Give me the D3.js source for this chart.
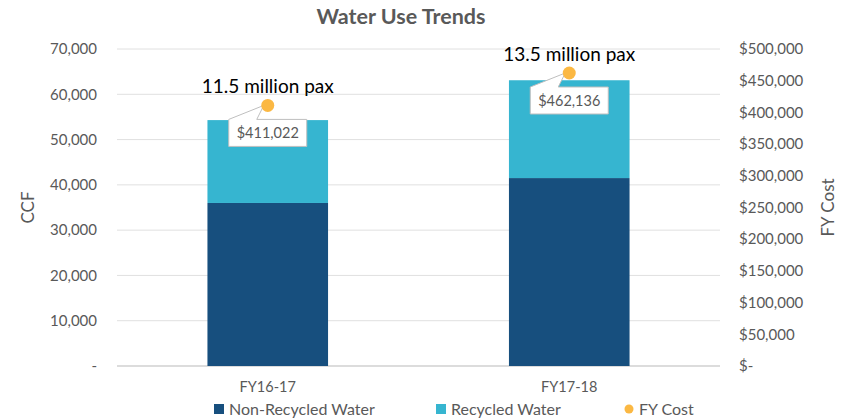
<!DOCTYPE html>
<html>
<head>
<meta charset="utf-8">
<script src="https://cdn.jsdelivr.net/npm/d3@7"></script>
<style>
  body { margin: 0; background: #fff; }
  svg text { font-family: Lato, "Liberation Sans", sans-serif; }
</style>
</head>
<body>
<script>
// chart data
const years = ["FY16-17", "FY17-18"];
const nonRecycled = [36000, 41500];
const recycled = [18300, 21600];
const fyCost = [411022, 462136];
const paxLabels = ["11.5 million pax", "13.5 million pax"];
const leftTicks = [0, 10000, 20000, 30000, 40000, 50000, 60000, 70000];
const rightTicks = [0, 50000, 100000, 150000, 200000, 250000, 300000, 350000, 400000, 450000, 500000];

const W = 851, H = 420;
const m = { left: 117, right: 131, top: 49, bottom: 54 };
const grey = "#595959";

const svg = d3.select("body").append("svg").attr("width", W).attr("height", H);

const x = d3.scaleBand().domain(years).range([m.left, W - m.right]).paddingInner(0.6).paddingOuter(0.3);
const y = d3.scaleLinear().domain([0, 70000]).range([H - m.bottom, m.top]);
const y2 = d3.scaleLinear().domain([0, 500000]).range([H - m.bottom, m.top]);

// title
svg.append("text").attr("x", 401).attr("y", 24).attr("text-anchor", "middle")
  .attr("font-size", 21.5).attr("font-weight", "bold").attr("fill", grey).text("Water Use Trends");

// gridlines
svg.append("g").selectAll("line").data(leftTicks).join("line")
  .attr("x1", m.left).attr("x2", W - m.right)
  .attr("y1", d => y(d)).attr("y2", d => y(d))
  .attr("stroke", d => d === 0 ? "#d0d0d0" : "#e0e0e0").attr("stroke-width", d => d === 0 ? 1.5 : 1);

// left axis
const fmt = d3.format(",");
svg.append("g").selectAll("text").data(leftTicks).join("text")
  .attr("x", 97).attr("y", d => y(d)).attr("dy", "0.35em").attr("text-anchor", "end")
  .attr("font-size", 15).attr("fill", grey).text(d => d === 0 ? "-" : fmt(d));
svg.append("text").attr("transform", `translate(34,${(m.top + H - m.bottom) / 2}) rotate(-90)`)
  .attr("text-anchor", "middle").attr("font-size", 17).attr("fill", grey).text("CCF");

// right axis
svg.append("g").selectAll("text").data(rightTicks).join("text")
  .attr("x", 739).attr("y", d => y2(d)).attr("dy", "0.35em").attr("text-anchor", "start")
  .attr("font-size", 15).attr("fill", grey).text(d => d === 0 ? "$-" : "$" + fmt(d));
svg.append("text").attr("transform", `translate(834,${(m.top + H - m.bottom) / 2}) rotate(-90)`)
  .attr("text-anchor", "middle").attr("font-size", 17).attr("fill", grey).text("FY Cost");

// bars
const rows = years.map((yr, i) => ({ yr, a: nonRecycled[i], b: recycled[i], cost: fyCost[i], pax: paxLabels[i] }));
const bars = svg.append("g");
bars.selectAll(".nr").data(rows).join("rect").attr("class", "nr")
  .attr("x", d => x(d.yr)).attr("width", x.bandwidth())
  .attr("y", d => y(d.a)).attr("height", d => y(0) - y(d.a)).attr("fill", "#174f7e");
bars.selectAll(".rc").data(rows).join("rect").attr("class", "rc")
  .attr("x", d => x(d.yr)).attr("width", x.bandwidth())
  .attr("y", d => y(d.a + d.b)).attr("height", d => y(d.a) - y(d.a + d.b)).attr("fill", "#36b5d0");

// x labels
svg.append("g").selectAll("text").data(years).join("text")
  .attr("x", d => x(d) + x.bandwidth() / 2).attr("y", 387).attr("dy", "0.35em")
  .attr("text-anchor", "middle").attr("font-size", 14.5).attr("fill", grey).text(d => d);

// cost points with callouts
const pts = svg.append("g");
rows.forEach(d => {
  const cx = x(d.yr) + x.bandwidth() / 2, cy = y2(d.cost);
  const bw = 78, bh = 27, bx = cx - bw / 2, by = cy + 14;
  const path = `M${bx},${by} L${cx - 4},${cy} L${bx + 28},${by} L${bx + bw},${by} L${bx + bw},${by + bh} L${bx},${by + bh} Z`;
  pts.append("path").attr("d", path).attr("fill", "#fff").attr("stroke", "#bfbfbf").attr("stroke-width", 1);
  pts.append("text").attr("x", bx + bw / 2).attr("y", by + bh / 2).attr("dy", "0.35em")
    .attr("text-anchor", "middle").attr("font-size", 14.5).attr("fill", grey).text("$" + fmt(d.cost));
  pts.append("circle").attr("cx", cx).attr("cy", cy).attr("r", 6.5).attr("fill", "#fbb843");
  pts.append("text").attr("x", cx).attr("y", cy - 12)
    .attr("text-anchor", "middle").attr("font-size", 19).attr("fill", "#000").text(d.pax);
});

// legend
const lg = svg.append("g");
const lgY = 409;
lg.append("rect").attr("x", 214).attr("y", lgY - 5).attr("width", 10).attr("height", 10).attr("fill", "#174f7e");
lg.append("text").attr("x", 229).attr("y", lgY).attr("dy", "0.35em").attr("font-size", 16).attr("fill", grey).text("Non-Recycled Water");
lg.append("rect").attr("x", 436).attr("y", lgY - 5).attr("width", 10).attr("height", 10).attr("fill", "#36b5d0");
lg.append("text").attr("x", 451).attr("y", lgY).attr("dy", "0.35em").attr("font-size", 16).attr("fill", grey).text("Recycled Water");
lg.append("circle").attr("cx", 629).attr("cy", lgY).attr("r", 4.5).attr("fill", "#fbb843");
lg.append("text").attr("x", 639).attr("y", lgY).attr("dy", "0.35em").attr("font-size", 16).attr("fill", grey).text("FY Cost");
</script>
</body>
</html>
